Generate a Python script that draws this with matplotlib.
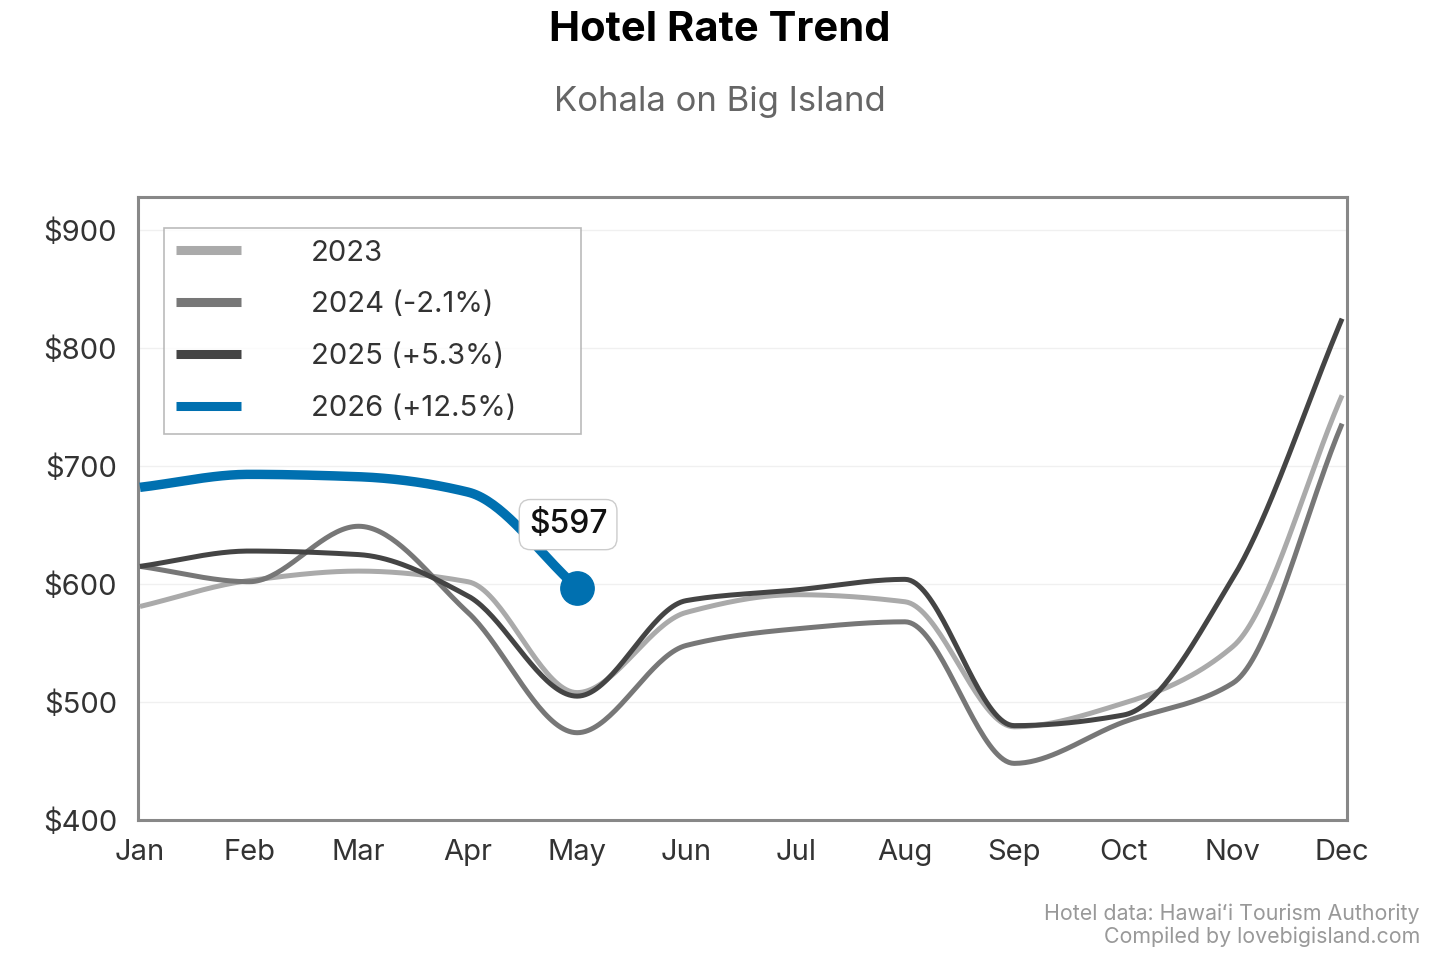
import numpy as np
import matplotlib
matplotlib.use("Agg")
import matplotlib.pyplot as plt

plt.rcParams['font.family'] = ['Inter', 'DejaVu Sans']

months = ["Jan", "Feb", "Mar", "Apr", "May", "Jun",
          "Jul", "Aug", "Sep", "Oct", "Nov", "Dec"]

rates_2023 = [581, 603, 611, 602, 508, 576, 591, 585, 479, 499, 547, 760]
rates_2024 = [615, 602, 649, 576, 474, 548, 562, 568, 448, 483, 516, 736]
rates_2025 = [615, 628, 625, 590, 505, 586, 595, 604, 480, 489, 605, 825]
rates_2026 = [682, 693, 691, 678, 597]

labels = ["2023", "2024 (-2.1%)", "2025 (+5.3%)", "2026 (+12.5%)"]
colors = ["#aaaaaa", "#777777", "#444444", "#0070b0"]


def monotone(y, n=40):
    # monotone cubic between monthly points (no overshoot)
    y = np.asarray(y, dtype=float)
    x = np.arange(len(y), dtype=float)
    d = np.diff(y)
    m = np.zeros_like(y)
    for i in range(1, len(y) - 1):
        if d[i - 1] * d[i] > 0:
            m[i] = 2.0 / (1.0 / d[i - 1] + 1.0 / d[i])
    m[0] = d[0]
    m[-1] = d[-1]
    xs, ys = [], []
    for i in range(len(y) - 1):
        t = np.linspace(0, 1, n, endpoint=(i == len(y) - 2))
        h00 = 2 * t**3 - 3 * t**2 + 1
        h10 = t**3 - 2 * t**2 + t
        h01 = -2 * t**3 + 3 * t**2
        h11 = t**3 - t**2
        xs.append(x[i] + t)
        ys.append(h00 * y[i] + h10 * m[i] + h01 * y[i + 1] + h11 * m[i + 1])
    return np.concatenate(xs), np.concatenate(ys)


fig = plt.figure(figsize=(14.4, 9.6), dpi=100)
ax = fig.add_axes([138 / 1440, 140 / 960, 1209 / 1440, 623 / 960])

series = [rates_2023, rates_2024, rates_2025, rates_2026]
widths = [3.6, 3.6, 3.6, 6.8]
for vals, lab, col, lw in zip(series, labels, colors, widths):
    sx, sy = monotone(vals)
    ax.plot(sx, sy, color=col, lw=lw, label=lab,
            solid_capstyle='butt', zorder=3)

# last 2026 point
last = len(rates_2026) - 1
ax.plot([last], [rates_2026[-1]], 'o', color=colors[3],
        markersize=24, zorder=5)
ax.annotate(f"${rates_2026[-1]}", xy=(last, rates_2026[-1]),
            xytext=(-9, 63), textcoords='offset pixels',
            ha='center', va='center', fontsize=23, fontweight='medium',
            color='#111111', zorder=6,
            bbox=dict(boxstyle='round,pad=0.3,rounding_size=0.35',
                      fc='white', ec='#cccccc', lw=1))

ax.set_xlim(-0.018, 11.045)
ax.set_ylim(400, max(rates_2025) * 1.125)
ax.set_xticks(range(12))
ax.set_xticklabels(months)
ax.set_yticks([400, 500, 600, 700, 800, 900])
ax.set_yticklabels([f"${v}" for v in [400, 500, 600, 700, 800, 900]])
ax.tick_params(length=0, labelsize=21, labelcolor='#333333')
ax.tick_params(axis='y', pad=15)
ax.tick_params(axis='x', pad=14)
ax.grid(axis='y', color='#f0f0f0', lw=1)
ax.set_axisbelow(True)
for sp in ax.spines.values():
    sp.set_color('#888888')
    sp.set_linewidth(2.2)

leg_top = 1 - 31 / 623
leg = ax.legend(loc='upper left',
                bbox_to_anchor=(26 / 1209, leg_top - 0.01, 417 / 1209, 0.01),
                mode='expand', borderaxespad=0, fontsize=21, frameon=True,
                fancybox=False, handlelength=2.23, handletextpad=2.4,
                labelspacing=0.85, borderpad=0.4)
leg.get_frame().set_edgecolor('#aaaaaa')
leg.get_frame().set_linewidth(1.2)
for h in leg.get_lines():
    h.set_linewidth(6.5)
for t in leg.get_texts():
    t.set_color('#333333')

fig.text(0.5, 1 - 30 / 960, "Hotel Rate Trend", ha='center', va='center',
         fontsize=30, fontweight='bold', color='black')
fig.text(0.5, 1 - 102 / 960, "Kohala on Big Island", ha='center', va='center',
         fontsize=25, color='#666666')
fig.text(1420 / 1440, 1 - 925 / 960,
         "Hotel data: Hawaiʻi Tourism Authority\nCompiled by lovebigisland.com",
         ha='right', va='center', fontsize=15.4, color='#999999',
         linespacing=1.15)

fig.savefig("out.png", dpi=100)
